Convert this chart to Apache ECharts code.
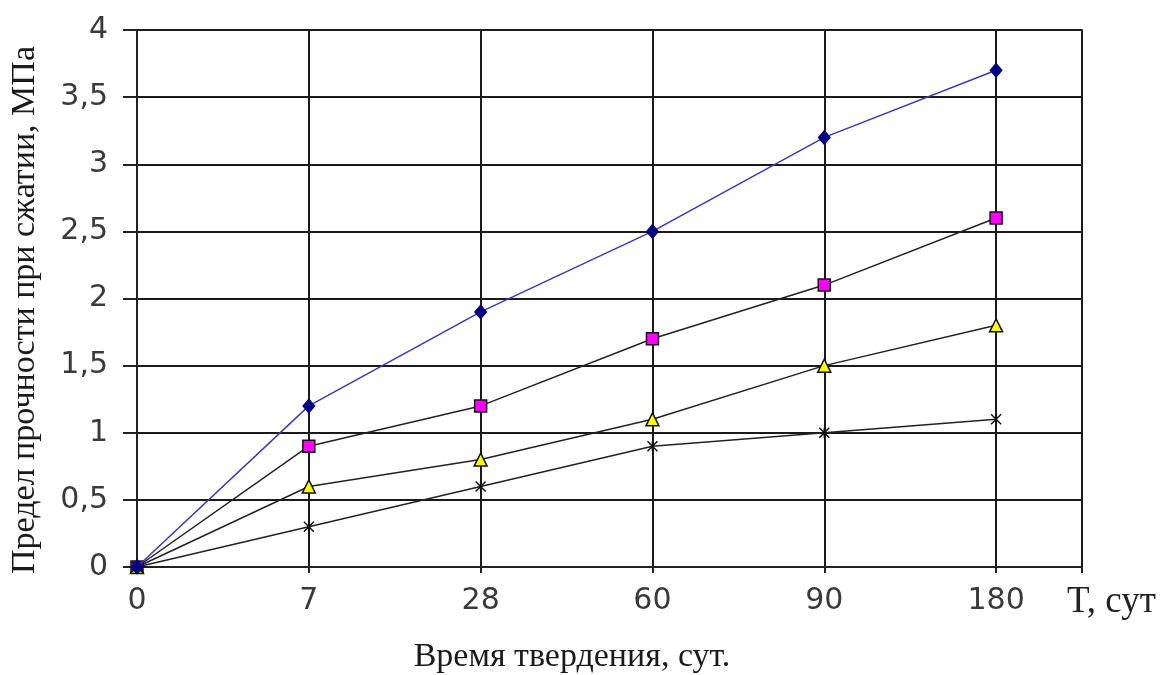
<!DOCTYPE html>
<html>
<head>
<meta charset="utf-8">
<script src="https://cdn.jsdelivr.net/npm/echarts@6/dist/echarts.min.js"></script>
<style>
  html, body { margin: 0; padding: 0; background: #fff; }
  #chart { width: 1176px; height: 675px; }
</style>
</head>
<body>
<div id="chart"></div>
<script>
// Curing time categories (days)
const categories = ['0', '7', '28', '60', '90', '180'];
// Compressive strength, MPa
const seriesA = [0, 1.2, 1.9, 2.5, 3.2, 3.7];
const seriesB = [0, 0.9, 1.2, 1.7, 2.1, 2.6];
const seriesC = [0, 0.6, 0.8, 1.1, 1.5, 1.8];
const seriesD = [0, 0.3, 0.6, 0.9, 1.0, 1.1];
const yTicks = [0, 0.5, 1, 1.5, 2, 2.5, 3, 3.5, 4];

const toPoints = vals => vals.map((v, i) => [i, v]);

const chart = echarts.init(document.getElementById('chart'));
const serif = '"Liberation Serif", "DejaVu Serif", serif';
const sans = '"DejaVu Sans", "Liberation Sans", sans-serif';

chart.setOption({
  backgroundColor: '#fff',
  animation: false,
  grid: {
    left: 137, top: 30, right: 94, bottom: 108,
    show: true, borderColor: '#8a8a8a', borderWidth: 2
  },
  xAxis: {
    type: 'value',
    min: 0, max: categories.length - 0.5, interval: 1,
    axisLine: { show: true, lineStyle: { color: '#222', width: 2 } },
    axisTick: { show: true, length: 6, lineStyle: { color: '#222', width: 2 } },
    axisLabel: {
      margin: 19, fontFamily: sans, fontSize: 30, color: '#3a3a3a',
      formatter: v => (Number.isInteger(v) && categories[v] !== undefined) ? categories[v] : ''
    },
    splitLine: { show: true, lineStyle: { color: '#1a1a1a', width: 2 } }
  },
  yAxis: {
    type: 'value',
    min: yTicks[0], max: yTicks[yTicks.length - 1], interval: 0.5,
    axisLine: { show: true, lineStyle: { color: '#222', width: 2 } },
    axisTick: { show: true, length: 14, lineStyle: { color: '#222', width: 2 } },
    axisLabel: {
      margin: 29, fontFamily: sans, fontSize: 30, color: '#3a3a3a',
      formatter: v => String(v).replace('.', ',')
    },
    splitLine: { show: true, lineStyle: { color: '#1a1a1a', width: 2 } }
  },
  graphic: [
    {
      // vertical axis title
      type: 'text', x: 25, y: 310, rotation: Math.PI / 2,
      style: { text: 'Предел прочности при сжатии, МПа', font: '34px ' + serif, fill: '#1a1a1a', align: 'center', verticalAlign: 'middle' }
    },
    {
      type: 'text', x: 572, y: 657,
      style: { text: 'Время твердения, сут.', font: '34px ' + serif, fill: '#1a1a1a', align: 'center', verticalAlign: 'middle' }
    },
    {
      type: 'text', x: 1067, y: 602,
      style: { text: 'T, сут', font: '37px ' + serif, fill: '#222', align: 'left', verticalAlign: 'middle' }
    }
  ],
  series: [
    {
      type: 'line', data: toPoints(seriesA),
      symbol: 'diamond', symbolSize: [12, 14],
      lineStyle: { color: '#3a3ab8', width: 1.5 },
      itemStyle: { color: '#000080', borderColor: '#000080', borderWidth: 1 },
      z: 5
    },
    {
      type: 'line', data: toPoints(seriesB),
      symbol: 'rect', symbolSize: 12,
      lineStyle: { color: '#222', width: 1.5 },
      itemStyle: { color: '#ff00ff', borderColor: '#111', borderWidth: 1.5 },
      z: 4
    },
    {
      type: 'line', data: toPoints(seriesC),
      symbol: 'triangle', symbolSize: [13, 13],
      lineStyle: { color: '#222', width: 1.5 },
      itemStyle: { color: '#ffff00', borderColor: '#111', borderWidth: 1.5 },
      z: 4
    },
    {
      type: 'line', data: toPoints(seriesD),
      symbol: 'path://M0,0L10,10M10,0L0,10M5,0L5,10', symbolSize: 10,
      lineStyle: { color: '#222', width: 1.5 },
      itemStyle: { color: 'none', borderColor: '#111', borderWidth: 1.5 },
      z: 4
    }
  ]
});
</script>
</body>
</html>
